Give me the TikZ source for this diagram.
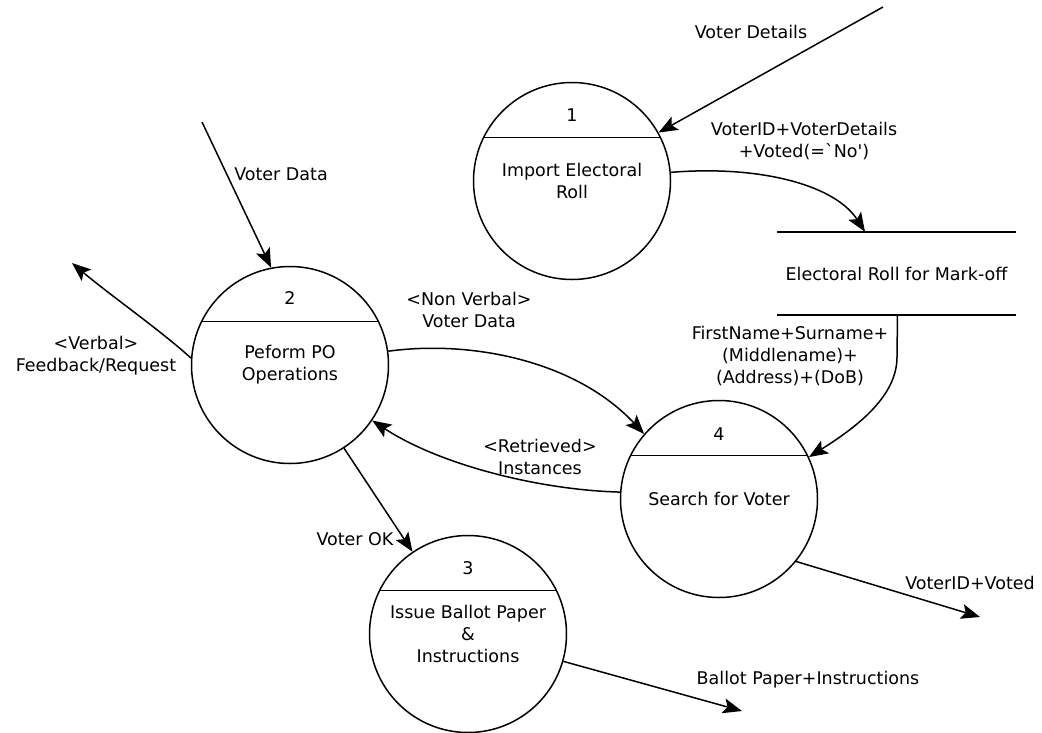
\documentclass[tikz,border=0pt]{standalone}
\usepackage{fontspec}
\setmainfont{DejaVu Sans}
\usetikzlibrary{arrows.meta}
\newcommand\dfdfont{\fontsize{17.5}{22}\selectfont}
\begin{document}
\begin{tikzpicture}[x=1pt,y=-1pt,
  proc/.style={circle,draw,line width=1.5pt,minimum size=197pt,inner sep=0pt,align=center,font=\dfdfont},
  chord/.style={line width=1.5pt},
  flow/.style={line width=1.5pt,-{Stealth[length=19pt,width=15pt,inset=4pt]}},
  lbl/.style={align=center,font=\dfdfont,inner sep=0pt}
]
\useasboundingbox[fill=white] (0,0) rectangle (1042,732);

% processes
\node[proc] (c1) at (572,181) {Import Electoral\\Roll};
\node[lbl] (n1) at (572,115) {1};
\draw[chord] (c1.154) -- (c1.26);

\node[proc] (c2) at (290,365) {Peform PO\\Operations};
\node[lbl] (n2) at (290,298) {2};
\draw[chord] (c2.154) -- (c2.26);

\node[proc] (c3) at (468,634) {Issue Ballot Paper\\\&\\Instructions};
\node[lbl] (n3) at (468,568) {3};
\draw[chord] (c3.154) -- (c3.26);

\node[proc] (c4) at (719,499) {Search for Voter};
\node[lbl] (n4) at (719,434) {4};
\draw[chord] (c4.154) -- (c4.26);

% data store
\node[lbl,minimum width=239pt,minimum height=83pt] (store) at (896.5,273.5) {Electoral Roll for Mark-off};
\draw[chord] (store.north west) -- (store.north east);
\draw[chord] (store.south west) -- (store.south east);

% free ends of flows
\coordinate (vdsrc) at (883,7);
\coordinate (vdata) at (202,122);
\coordinate (verbal) at (72,263);
\coordinate (ballot) at (742,711);
\coordinate (voted) at (980,617);

% flows
\draw[flow] (vdsrc) -- (c1);
\draw[flow] (c1.5) .. controls (760,165) and (835,185) .. ([xshift=-31.5pt]store.north);
\draw[flow] ([xshift=1pt]store.south) -- (897,357) .. controls (897,395) and (860,425) .. (c4.25);
\draw[flow] (vdata) -- (c2.101);
\draw[flow] (c2.176) .. controls (160,330) and (110,295) .. (verbal);
\draw[flow] (c2.8) .. controls (470,340) and (575,360) .. (c4.139);
\draw[flow] (c4.176) .. controls (540,490) and (440,465) .. (c2.-34);
\draw[flow] (c2.-57) -- (c3.124);
\draw[flow] (c3.-16) -- (ballot);
\draw[flow] (c4.-39) -- (voted);

% flow labels
\node[lbl] (l1) at (751,32) {Voter Details};
\node[lbl] (l2) at (804,141) {VoterID+VoterDetails\\+Voted(=\textasciigrave No\textquotesingle)};
\node[lbl] (l3) at (790,356) {FirstName+Surname+\\(Middlename)+\\(Address)+(DoB)};
\node[lbl] (l4) at (281,174) {Voter Data};
\node[lbl] (l5) at (96,356) {<Verbal>\\Feedback/Request};
\node[lbl] (l6) at (469,310) {<Non Verbal>\\Voter Data};
\node[lbl] (l7) at (540,457) {<Retrieved>\\Instances};
\node[lbl] (l8) at (355,539) {Voter OK};
\node[lbl] (l9) at (808,680) {Ballot Paper+Instructions};
\node[lbl] (l10) at (970,583) {VoterID+Voted};
\end{tikzpicture}
\end{document}
